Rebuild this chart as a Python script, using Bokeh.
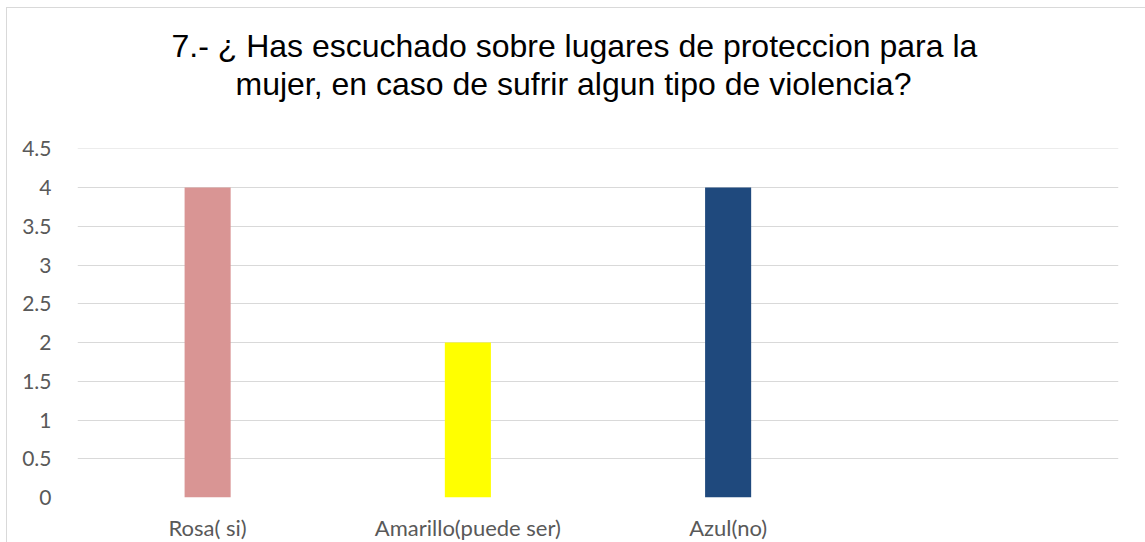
from bokeh.plotting import figure
from bokeh.models import FactorRange, Range1d, Title, ColumnDataSource, FixedTicker
from bokeh.embed import file_html
from bokeh.resources import INLINE

categories = ["Rosa( si)", "Amarillo(puede ser)", "Azul(no)", " "]
values = [4, 2, 4, 0]
colors = ["#D99594", "#FFFF00", "#1F497D", "#FFFFFF"]
title_lines = ["7.- ¿ Has escuchado sobre lugares de proteccion para la",
               "mujer, en caso de sufrir algun tipo de violencia?"]
y_ticks = [0, 0.5, 1, 1.5, 2, 2.5, 3, 3.5, 4, 4.5]

W, H = 1139, 535
FL, FR, FT, FB = 70, 28, 140, 44
YMAX = 4.505
p = figure(x_range=FactorRange(*categories, range_padding=0), y_range=Range1d(0, YMAX),
           width=W, height=H, output_backend="svg", toolbar_location=None, title=None,
           min_border_left=FL, min_border_right=FR, min_border_top=FT, min_border_bottom=FB,
           styles={"border-left": "1px solid #D9D9D9", "border-top": "1px solid #D9D9D9",
                   "margin-left": "6px", "margin-top": "7px"})
p.outline_line_color = None
p.background_fill_color = "white"
p.border_fill_color = "white"

src = ColumnDataSource(dict(cat=categories[:3], val=values[:3], color=colors[:3]))
p.vbar(x="cat", top="val", width=0.177, color="color", source=src, line_color=None)

p.xgrid.grid_line_color = None
p.ygrid.grid_line_color = "#D9D9D9"
p.ygrid.grid_line_width = 1
p.yaxis.ticker = FixedTicker(ticks=y_ticks)
p.yaxis.major_label_overrides = {0: "0", 0.5: "0.5", 1: "1", 1.5: "1.5", 2: "2", 2.5: "2.5",
                                 3: "3", 3.5: "3.5", 4: "4", 4.5: "4.5"}
for ax in (p.xaxis, p.yaxis):
    ax.axis_line_color = None
    ax.major_tick_line_color = None
    ax.minor_tick_line_color = None
    ax.major_tick_out = 0
    ax.major_tick_in = 0
    ax.major_label_text_font = "Lato"
    ax.major_label_text_color = "#595959"
p.xaxis.major_label_text_font_size = "22px"
p.yaxis.major_label_text_font_size = "21px"
p.yaxis.major_label_standoff = 26
p.xaxis.major_label_standoff = 16

# spacer between the frame and the title block
p.add_layout(Title(text=" ", standoff=44, text_font_size="1px"), "above")
# two-line title, left-aligned with offsets so that it is centred on the whole chart
p.add_layout(Title(text=title_lines[1], align="left", offset=158, standoff=0,
                   text_font="Liberation Sans", text_font_size="32px",
                   text_font_style="normal", text_color="#000000"), "above")
p.add_layout(Title(text=title_lines[0], align="left", offset=94, standoff=0,
                   text_font="Liberation Sans", text_font_size="32px",
                   text_font_style="normal", text_color="#000000"), "above")

open("out.html", "w").write(file_html(p, INLINE))
